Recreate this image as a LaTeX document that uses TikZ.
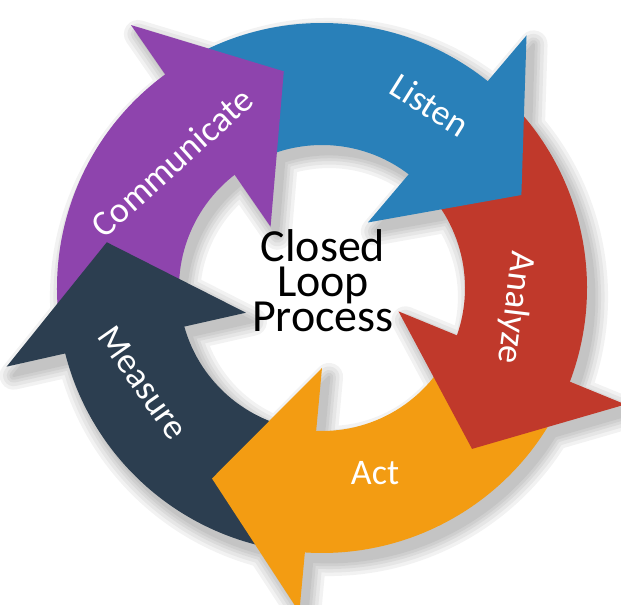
\documentclass[tikz,border=0pt]{standalone}
\usepackage{fontspec}
\setmainfont{Carlito}
\usepackage{xcolor}
\usetikzlibrary{positioning}

\definecolor{listenblue}{HTML}{2980B9}
\definecolor{analyzered}{HTML}{C0392B}
\definecolor{actorange}{HTML}{F39C12}
\definecolor{measurenavy}{HTML}{2C3E50}
\definecolor{commpurple}{HTML}{8E44AD}

% #1 = angle of the tip, #2 = angle of the tip before it
\newcommand\shaftpath[2]{({#2+24}:143) arc[start angle=#2+24, end angle=#1+25, radius=143] -- ({#1+25}:265) arc[start angle=#1+25, end angle=#2+24, radius=265] -- cycle}
\newcommand\headpath[1]{({#1+30}:80) -- (#1:220) -- ({#1+26}:325) -- cycle}
\newcommand\hubfont{\fontsize{32.7}{24.9}\selectfont\lineskiplimit=-60pt\relax}

\begin{document}
\begin{tikzpicture}[x=0.025cm,y=0.025cm,
  steplabel/.style={text=white,inner sep=0pt,font=\fontsize{25.6}{30}\selectfont},
  hubtext/.style={align=center,inner sep=0pt,font=\hubfont}]
\useasboundingbox (0,0) rectangle (621,605);
\coordinate (hub) at (322,317);

\begin{scope}[shift={(hub)}]
% soft shadow
\foreach \w in {20,15,10,6,2}{
  \begin{scope}[shift={(7,-9)},transparency group,opacity=0.05]
  \foreach \tip/\prev in {25/100,-47/25,-120/-47,-192/-120,-260/-192}
    \filldraw[black,line width=\w,line join=round] \shaftpath{\tip}{\prev} \headpath{\tip};
  \end{scope}
}
% shafts first, heads on top
\foreach \tip/\prev/\col in {25/100/listenblue,-47/25/analyzered,-120/-47/actorange,-192/-120/measurenavy,-260/-192/commpurple}
  \fill[\col] \shaftpath{\tip}{\prev};
\foreach \tip/\col in {25/listenblue,-47/analyzered,-120/actorange,-192/measurenavy,-260/commpurple}
  \fill[\col] \headpath{\tip};
\end{scope}

\node[hubtext] (title) at (323,324) {Closed\\Loop\\Process};

\node[steplabel,rotate=-32] (listen) at (430,500) {Listen};
\node[steplabel,rotate=-97] (analyze) at (515,297) {Analyze};
\node[steplabel] (act) at (375,132) {Act};
\node[steplabel,rotate=-55] (measure) at (143,222) {Measure};
\node[steplabel,rotate=42] (communicate) at (172,443) {Communicate};
\end{tikzpicture}
\end{document}
